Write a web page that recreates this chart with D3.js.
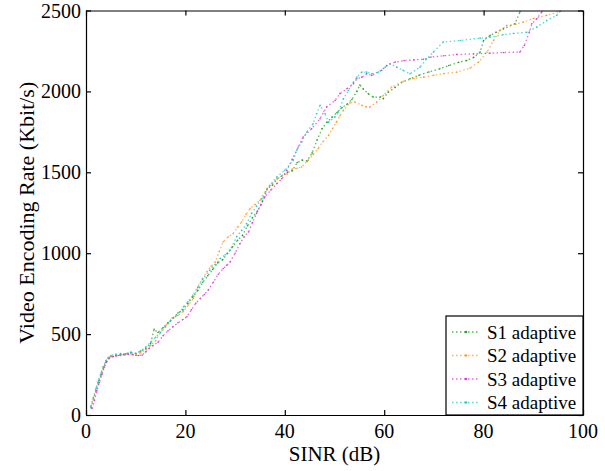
<!DOCTYPE html>
<html lang="en">
<head>
<meta charset="UTF-8">
<script src="https://d3js.org/d3.v7.min.js"></script>
</head>
<body style="margin:0">
<svg width="605" height="471"></svg>
<script>
    // SINR (dB) and encoding rate (Kbit/s), one pair per scheme
    const s1X = [1, 1.5, 2, 2.5, 3, 3.5, 4, 4.5, 5, 6, 7, 8, 9, 10, 11, 12, 13, 13.7, 14.5, 15.5, 16.5, 17.5, 18.5, 19.5, 20.5, 21.5, 22.5, 23.5, 24.5, 25.5, 26.5, 27.5, 28.5, 29.5, 30.5, 31.5, 32.5, 33.5, 34.5, 35.5, 36.5, 37.5, 38.5, 39.5, 40.5, 41.5, 42.5, 43.5, 44.5, 45.5, 46.5, 47.5, 48.5, 49.5, 50.5, 51.5, 52.5, 53.5, 54.5, 55.1, 55.8, 56.8, 57.8, 59.2, 59.8, 60.8, 62.2, 63.5, 65.2, 67, 69, 71.2, 73, 75, 76.6, 78, 79.3, 80, 81.3, 82.5, 84, 86.3, 87.3, 88];
    const s1Y = [45, 100, 150, 200, 245, 290, 325, 350, 362, 368, 372, 378, 388, 380, 395, 410, 440, 530, 510, 540, 570, 600, 630, 650, 690, 730, 770, 820, 860, 900, 940, 960, 1000, 1040, 1080, 1110, 1170, 1220, 1260, 1320, 1400, 1420, 1460, 1480, 1500, 1510, 1560, 1575, 1570, 1620, 1700, 1770, 1810, 1840, 1870, 1900, 1920, 1950, 2000, 2040, 2015, 1985, 1965, 1965, 1955, 1995, 2025, 2055, 2078, 2100, 2120, 2140, 2160, 2180, 2191, 2210, 2243, 2315, 2346, 2365, 2387, 2418, 2490, 2530];

    const s2X = [1, 1.5, 2, 2.5, 3, 3.5, 4, 4.5, 5, 6, 7, 8, 9, 10, 11, 12, 13, 14, 15, 16.1, 17.4, 18.5, 19.6, 20.6, 21.6, 22.5, 23.4, 24.3, 25.2, 26, 26.8, 27.6, 28.6, 29.6, 30.5, 31.3, 32.2, 33, 34, 35, 36.4, 37.5, 38.5, 39.5, 40.5, 41.5, 42.5, 43.4, 44.7, 45.7, 46.7, 47.7, 48.8, 49.6, 50.4, 51.1, 51.8, 53.1, 54.1, 55.5, 56.3, 57.1, 58.5, 59.8, 61.5, 63.8, 66, 67.9, 70, 72, 74.6, 77.3, 79, 80.7, 82, 83.3, 84.6, 86.5, 88, 90, 92.7, 95.4, 96.5];
    const s2Y = [50, 95, 155, 205, 250, 295, 330, 352, 360, 365, 368, 372, 378, 370, 385, 405, 430, 460, 510, 555, 600, 615, 640, 680, 720, 790, 840, 885, 920, 946, 1010, 1070, 1100, 1121, 1160, 1193, 1240, 1276, 1300, 1327, 1399, 1430, 1460, 1480, 1490, 1520, 1525, 1533, 1574, 1610, 1646, 1690, 1728, 1770, 1810, 1850, 1883, 1928, 1934, 1914, 1905, 1903, 1934, 1975, 2027, 2062, 2080, 2088, 2100, 2110, 2119, 2144, 2181, 2243, 2315, 2377, 2407, 2415, 2428, 2450, 2470, 2495, 2520];

    const s3X = [1.2, 1.7, 2.2, 2.7, 3.2, 3.7, 4.2, 4.7, 5.5, 6.5, 7.5, 8.5, 9.5, 10.5, 11.3, 12, 12.7, 13.5, 14.5, 15.5, 16.5, 17.5, 18.5, 19.5, 20.3, 21.2, 22.1, 23, 23.8, 24.6, 25.6, 26.6, 27.6, 28.3, 29, 30, 31, 31.8, 32.7, 33.5, 34.3, 35.2, 36, 37.2, 38.4, 39.4, 40.4, 41.5, 42.7, 43.7, 45.4, 47.1, 48.4, 50.1, 51.1, 52.5, 53.8, 54.5, 55.5, 56.5, 57.5, 59.5, 60.5, 62.2, 64, 66, 67.9, 69.4, 72, 74.6, 78, 81.3, 84, 87.3, 88.2, 89.2, 89.7, 90.7, 91.7, 92.5];
    const s3Y = [40, 90, 150, 200, 250, 295, 330, 350, 362, 368, 372, 375, 372, 368, 370, 390, 412, 430, 450, 490, 520, 545, 570, 590, 607, 650, 690, 720, 745, 772, 820, 870, 905, 925, 946, 1000, 1060, 1100, 1131, 1190, 1245, 1300, 1348, 1390, 1430, 1460, 1512, 1580, 1656, 1718, 1769, 1831, 1903, 1944, 1986, 2016, 2047, 2078, 2088, 2109, 2099, 2130, 2160, 2181, 2190, 2195, 2198, 2212, 2220, 2228, 2232, 2236, 2240, 2243, 2284, 2366, 2418, 2449, 2490, 2520];

    const s4X = [1, 1.5, 2, 2.5, 3, 3.5, 4, 4.5, 5, 6, 7, 8, 9, 10, 11, 12, 13, 14, 15, 16, 17, 18, 19, 19.6, 20.5, 21.5, 22.5, 23.5, 24.9, 26, 27, 28, 29, 30.3, 31.3, 32.3, 33.3, 34.3, 35.4, 36.2, 37, 38.4, 40, 41.7, 42.4, 43.4, 44.4, 45.7, 46.4, 47.1, 48.1, 48.8, 50.1, 50.8, 51.8, 52.8, 53.8, 54.5, 55.5, 56.5, 57.5, 58.8, 60.2, 61.2, 62.5, 63.8, 65.2, 67.2, 68.5, 69.9, 71.9, 75.3, 79.3, 81.3, 83.9, 86, 88.7, 90.7, 92.7, 94.7, 95.4, 96.5];
    const s4Y = [55, 110, 165, 215, 260, 300, 335, 355, 368, 375, 380, 378, 385, 380, 395, 420, 450, 480, 510, 545, 580, 610, 640, 669, 700, 740, 790, 840, 895, 930, 967, 990, 1019, 1101, 1140, 1183, 1245, 1290, 1337, 1380, 1420, 1471, 1512, 1574, 1636, 1687, 1749, 1800, 1862, 1914, 1862, 1810, 1842, 1872, 1954, 2006, 2057, 2088, 2119, 2119, 2109, 2119, 2150, 2171, 2150, 2130, 2109, 2150, 2200, 2243, 2305, 2315, 2329, 2335, 2350, 2358, 2366, 2397, 2438, 2470, 2495, 2520];

    const seriesNames = ["S1 adaptive", "S2 adaptive", "S3 adaptive", "S4 adaptive"];
    const seriesX = [s1X, s2X, s3X, s4X];
    const seriesY = [s1Y, s2Y, s3Y, s4Y];
    const seriesColors = ["#1fa01f", "#ff9a2a", "#d936d9", "#22c8c8"];

    const xTicks = [0, 20, 40, 60, 80, 100];
    const yTicks = [0, 500, 1000, 1500, 2000, 2500];

    const margin = {top: 10.5, right: 22, bottom: 56, left: 86};
    const width = 605 - margin.left - margin.right;
    const height = 471 - margin.top - margin.bottom;

    const svg = d3.select("svg");

    const x = d3.scaleLinear().domain([0, 100]).range([margin.left, margin.left + width]);
    const y = d3.scaleLinear().domain([0, 2500]).range([margin.top + height, margin.top]);

    svg.append("clipPath").attr("id", "plotclip")
        .append("rect").attr("x", margin.left).attr("y", margin.top)
        .attr("width", width).attr("height", height);

    const line = d3.line().x(d => x(d[0])).y(d => y(d[1]));

    const plot = svg.append("g").attr("clip-path", "url(#plotclip)");

    seriesNames.forEach((name, i) => {
        const pts = seriesX[i].map((v, j) => [v, seriesY[i][j]]);
        plot.append("path")
            .datum(pts)
            .attr("d", line)
            .attr("fill", "none")
            .attr("stroke", seriesColors[i])
            .attr("stroke-width", 1.3)
            .attr("stroke-opacity", 0.75)
            .attr("stroke-dasharray", "1.5,2.5");
        plot.selectAll(null)
            .data(pts)
            .enter().append("circle")
            .attr("cx", d => x(d[0]))
            .attr("cy", d => y(d[1]))
            .attr("r", 0.8)
            .attr("fill", seriesColors[i]);
    });

    // axes with inward ticks on all four sides, labels drawn separately
    const axes = [
        [d3.axisBottom(x).tickValues(xTicks), `translate(0,${margin.top + height})`],
        [d3.axisLeft(y).tickValues(yTicks), `translate(${margin.left},0)`],
        [d3.axisTop(x).tickValues(xTicks), `translate(0,${margin.top})`],
        [d3.axisRight(y).tickValues(yTicks), `translate(${margin.left + width},0)`]
    ];
    axes.forEach(([ax, tr]) => {
        const a = svg.append("g").attr("transform", tr)
            .call(ax.tickSize(-5).tickSizeOuter(0).tickFormat(""));
        a.selectAll("path, line").attr("stroke", "#000").attr("stroke-width", 1.2);
    });

    svg.selectAll(null)
        .data(xTicks).enter().append("text")
        .attr("class", "lbl").attr("data-size", 20)
        .attr("x", d => x(d)).attr("y", margin.top + height + 23)
        .attr("text-anchor", "middle")
        .text(d => d);
    svg.selectAll(null)
        .data(yTicks).enter().append("text")
        .attr("class", "lbl").attr("data-size", 20)
        .attr("x", margin.left - 5).attr("y", d => y(d) + 7)
        .attr("text-anchor", "end")
        .text(d => d);

    // axis labels
    svg.append("text")
        .attr("class", "lbl").attr("data-size", 21)
        .attr("x", margin.left + width / 2).attr("y", margin.top + height + 46)
        .attr("text-anchor", "middle")
        .text("SINR (dB)");
    svg.append("text")
        .attr("class", "lbl").attr("data-size", 22)
        .attr("transform", `translate(34,${margin.top + height / 2}) rotate(-90)`)
        .attr("text-anchor", "middle")
        .text("Video Encoding Rate (Kbit/s)");

    // legend, bottom right corner
    const lgW = 137, lgH = 99, rowH = 23.5;
    const lgX = margin.left + width - lgW, lgY = margin.top + height - lgH;
    svg.append("rect")
        .attr("x", lgX).attr("y", lgY)
        .attr("width", lgW).attr("height", lgH)
        .attr("fill", "#fff").attr("stroke", "#000").attr("stroke-width", 1.2);
    seriesNames.forEach((name, i) => {
        const ry = lgY + 16 + i * rowH;
        svg.append("line")
            .attr("x1", lgX + 6).attr("x2", lgX + 34).attr("y1", ry).attr("y2", ry)
            .attr("stroke", seriesColors[i]).attr("stroke-width", 1.3)
            .attr("stroke-opacity", 0.75)
            .attr("stroke-dasharray", "1.5,2.5");
        svg.append("circle")
            .attr("cx", lgX + 20).attr("cy", ry).attr("r", 1.2)
            .attr("fill", seriesColors[i]);
        svg.append("text")
            .attr("class", "lbl").attr("data-size", 19)
            .attr("x", lgX + 41).attr("y", ry + 6.5)
            .text(name);
    });

    // serif font for every label, set inline with priority
    svg.selectAll("text.lbl").each(function() {
        this.style.setProperty("font-family", "Liberation Serif", "important");
        this.style.setProperty("font-size", this.getAttribute("data-size") + "px", "important");
        this.style.setProperty("fill", "#000");
    });
</script>
</body>
</html>
